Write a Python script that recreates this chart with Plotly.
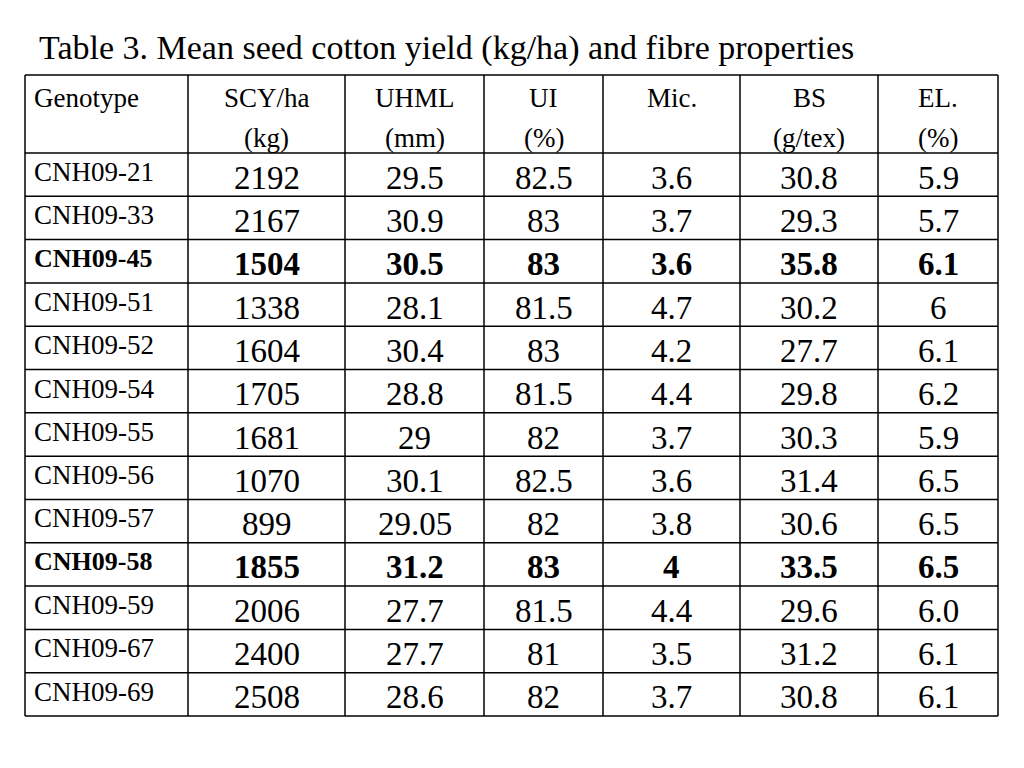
import plotly.graph_objects as go

title = "Table 3. Mean seed cotton yield (kg/ha) and fibre properties"
header1 = ["Genotype", "SCY/ha", "UHML", "UI", "Mic.", "BS", "EL."]
header2 = ["", "(kg)", "(mm)", "(%)", "", "(g/tex)", "(%)"]
genotypes = ["CNH09-21","CNH09-33","CNH09-45","CNH09-51","CNH09-52","CNH09-54","CNH09-55",
             "CNH09-56","CNH09-57","CNH09-58","CNH09-59","CNH09-67","CNH09-69"]
scy  = ["2192","2167","1504","1338","1604","1705","1681","1070","899","1855","2006","2400","2508"]
uhml = ["29.5","30.9","30.5","28.1","30.4","28.8","29","30.1","29.05","31.2","27.7","27.7","28.6"]
ui   = ["82.5","83","83","81.5","83","81.5","82","82.5","82","83","81.5","81","82"]
mic  = ["3.6","3.7","3.6","4.7","4.2","4.4","3.7","3.6","3.8","4","4.4","3.5","3.7"]
bs   = ["30.8","29.3","35.8","30.2","27.7","29.8","30.3","31.4","30.6","33.5","29.6","31.2","30.8"]
el   = ["5.9","5.7","6.1","6","6.1","6.2","5.9","6.5","6.5","6.5","6.0","6.1","6.1"]
bold_rows = ["CNH09-45", "CNH09-58"]

cols = [scy, uhml, ui, mic, bs, el]
OFF = 8
xb = [25, 188, 345, 484, 603, 740, 878, 998]
xb = [x - OFF for x in xb]
top, hbot, bot = 75 - OFF, 153 - OFF, 716 - OFF
n = len(genotypes)
rh = (bot - hbot) / n
F = "Liberation Serif, Times New Roman, serif"

fig = go.Figure()
shapes = []
lc = dict(color="black", width=1.5)
for x in xb:
    shapes.append(dict(type="line", x0=x, x1=x, y0=top, y1=bot, line=lc))
for i in range(n + 1):
    y = hbot + i * rh
    shapes.append(dict(type="line", x0=xb[0], x1=xb[-1], y0=y, y1=y, line=lc))
shapes.append(dict(type="line", x0=xb[0], x1=xb[-1], y0=top, y1=top, line=lc))

ann = [dict(x=37 - OFF, y=48 - OFF, text=title, showarrow=False, xanchor="left", yanchor="middle",
            font=dict(family=F, size=34, color="black"))]
for j, (h1, h2) in enumerate(zip(header1, header2)):
    if j == 0:
        ann.append(dict(x=32 - OFF, y=98 - OFF, text=h1, showarrow=False, xanchor="left",
                        font=dict(family=F, size=27, color="black")))
    else:
        cx = (xb[j] + xb[j + 1]) / 2
        ann.append(dict(x=cx, y=98 - OFF, text=h1, showarrow=False, font=dict(family=F, size=27, color="black")))
        if h2:
            ann.append(dict(x=cx, y=138 - OFF, text=h2, showarrow=False, font=dict(family=F, size=27, color="black")))
for i, g in enumerate(genotypes):
    b = g in bold_rows
    y0 = hbot + i * rh
    t = f"<b>{g}</b>" if b else g
    ann.append(dict(x=32 - OFF, y=y0 + 19, text=t, showarrow=False, xanchor="left",
                    font=dict(family=F, size=26 if b else 27, color="black")))
    for j, col in enumerate(cols):
        cx = (xb[j + 1] + xb[j + 2]) / 2
        v = f"<b>{col[i]}</b>" if b else col[i]
        ann.append(dict(x=cx, y=y0 + rh / 2 + 3, text=v, showarrow=False,
                        font=dict(family=F, size=33, color="black")))

fig.update_layout(width=1024, height=768, margin=dict(l=0, r=0, t=0, b=0),
                  plot_bgcolor="white", paper_bgcolor="white", shapes=shapes, annotations=ann,
                  xaxis=dict(range=[0, 1024], visible=False, fixedrange=True),
                  yaxis=dict(range=[768, 0], visible=False, fixedrange=True),
                  showlegend=False)
fig.write_html("out.html")
